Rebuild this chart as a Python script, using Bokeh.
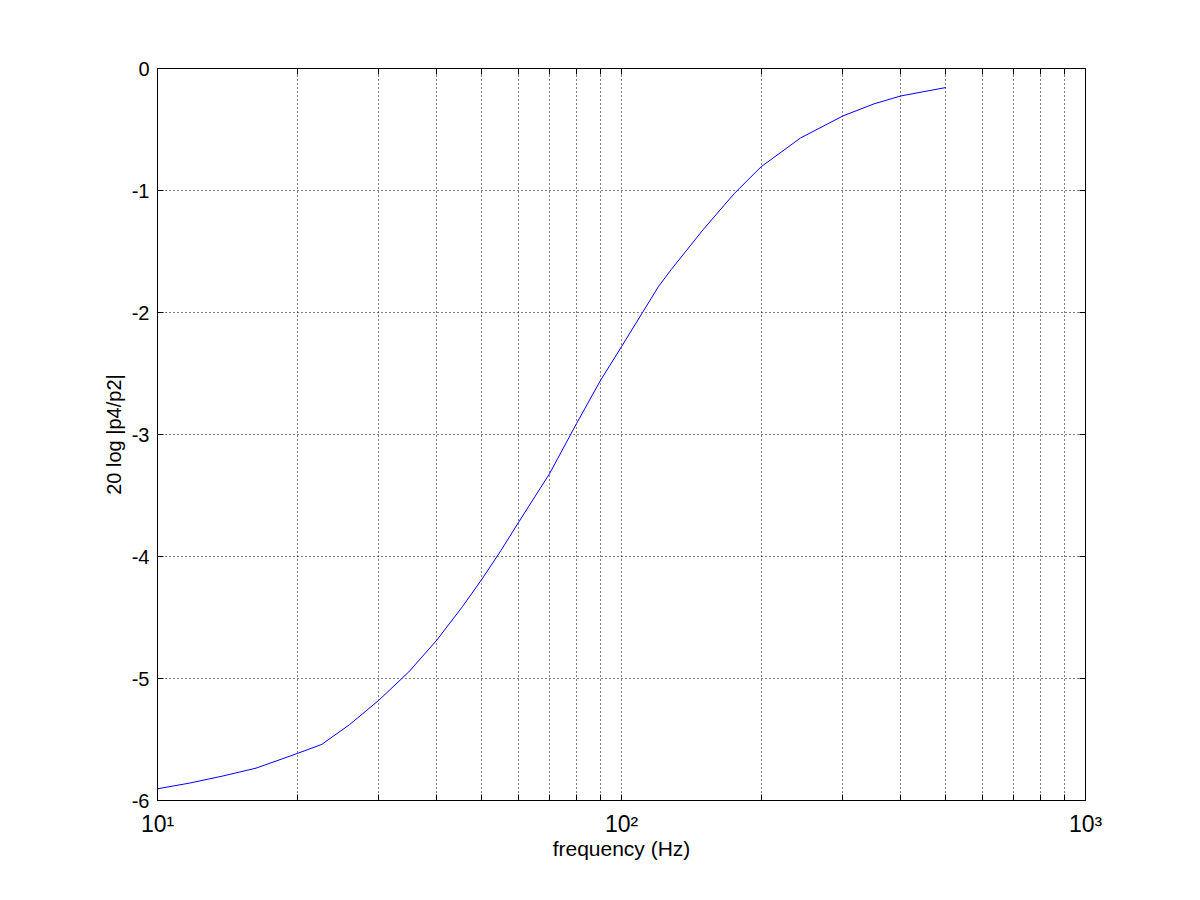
from bokeh.plotting import figure
from bokeh.models import (Range1d, FixedTicker, LogAxis, LinearAxis, ColumnDataSource,
                          CustomLabelingPolicy)
from bokeh.embed import file_html
from bokeh.resources import INLINE

# Data
freq_hz = [10, 11.7, 13.8, 16.3, 20, 22.6, 25.9, 30, 34.8, 40, 45.4, 50, 55, 60,
           70, 80, 90, 100, 111, 120, 128, 150, 175, 200, 243, 300, 350, 400, 500]
ratio_db = [-5.904, -5.858, -5.80, -5.735, -5.615, -5.54, -5.38, -5.178, -4.946,
            -4.685, -4.412, -4.187, -3.95, -3.72, -3.32, -2.91, -2.56, -2.28, -2.00,
            -1.79, -1.648, -1.32, -1.025, -0.805, -0.57, -0.389, -0.29, -0.225, -0.156]

x_major = [10, 100, 1000]
x_minor = [20, 30, 40, 50, 60, 70, 80, 90, 200, 300, 400, 500, 600, 700, 800, 900]
x_labels = {10: "10\u00b9", 100: "10\u00b2", 1000: "10\u00b3"}
y_major = [-6, -5, -4, -3, -2, -1, 0]
y_labels = {-6: "-6", -5: "-5", -4: "-4", -3: "-3", -2: "-2", -1: "-1", 0: "0"}

FONT = "Liberation Sans"

p = figure(
    x_axis_type="log",
    x_range=Range1d(10, 1000),
    y_range=Range1d(-6, 0),
    frame_width=928, frame_height=732,
    min_border_left=157, min_border_right=107,
    min_border_top=68, min_border_bottom=84,
    output_backend="svg", toolbar_location=None,
    background_fill_color="white", border_fill_color="white",
)
p.outline_line_color = "black"
p.outline_line_width = 1

src = ColumnDataSource(dict(f=freq_hz, v=ratio_db))
p.line("f", "v", source=src, line_color="#0000ff", line_width=1, line_join="round")

xt = FixedTicker(ticks=x_major, minor_ticks=x_minor)
yt = FixedTicker(ticks=y_major)

hide_labels = CustomLabelingPolicy(
    code="for (let i = 0; i < indices.size; i++) { indices.unset(i) }\nreturn indices")


def style_axis(ax):
    ax.axis_line_color = "black"
    ax.major_tick_in = 6
    ax.major_tick_out = 0
    ax.minor_tick_in = 6
    ax.minor_tick_out = 0
    ax.major_tick_line_color = "black"
    ax.minor_tick_line_color = "black"
    ax.major_label_text_font = FONT
    ax.major_label_text_color = "black"
    ax.axis_label_text_font = FONT
    ax.axis_label_text_font_style = "normal"
    ax.axis_label_text_color = "black"


xa = p.xaxis[0]
xa.ticker = xt
xa.major_label_overrides = x_labels
style_axis(xa)
xa.major_label_text_font_size = "23px"
xa.major_label_standoff = 10
xa.axis_label = "frequency (Hz)"
xa.axis_label_text_font_size = "21px"
xa.axis_label_standoff = -3

ya = p.yaxis[0]
ya.ticker = yt
ya.major_label_overrides = y_labels
style_axis(ya)
ya.minor_tick_in = 0
ya.major_label_text_font_size = "20px"
ya.major_label_standoff = 8
ya.axis_label = "20 log |p4/p2|"
ya.axis_label_text_font_size = "20px"
ya.axis_label_standoff = 4

top = LogAxis(ticker=xt, major_label_policy=hide_labels)
style_axis(top)
p.add_layout(top, "above")

right = LinearAxis(ticker=yt, major_label_policy=hide_labels)
style_axis(right)
right.minor_tick_in = 0
p.add_layout(right, "right")

p.xgrid.ticker = xt
p.xgrid.grid_line_color = "black"
p.xgrid.grid_line_dash = "1 3"
p.xgrid.grid_line_width = 1
p.xgrid.minor_grid_line_color = "black"
p.xgrid.minor_grid_line_dash = "1 3"
p.xgrid.minor_grid_line_width = 1

p.ygrid.ticker = yt
p.ygrid.grid_line_color = "black"
p.ygrid.grid_line_dash = "1 3"
p.ygrid.grid_line_width = 1

open("out.html", "w").write(file_html(p, INLINE))
